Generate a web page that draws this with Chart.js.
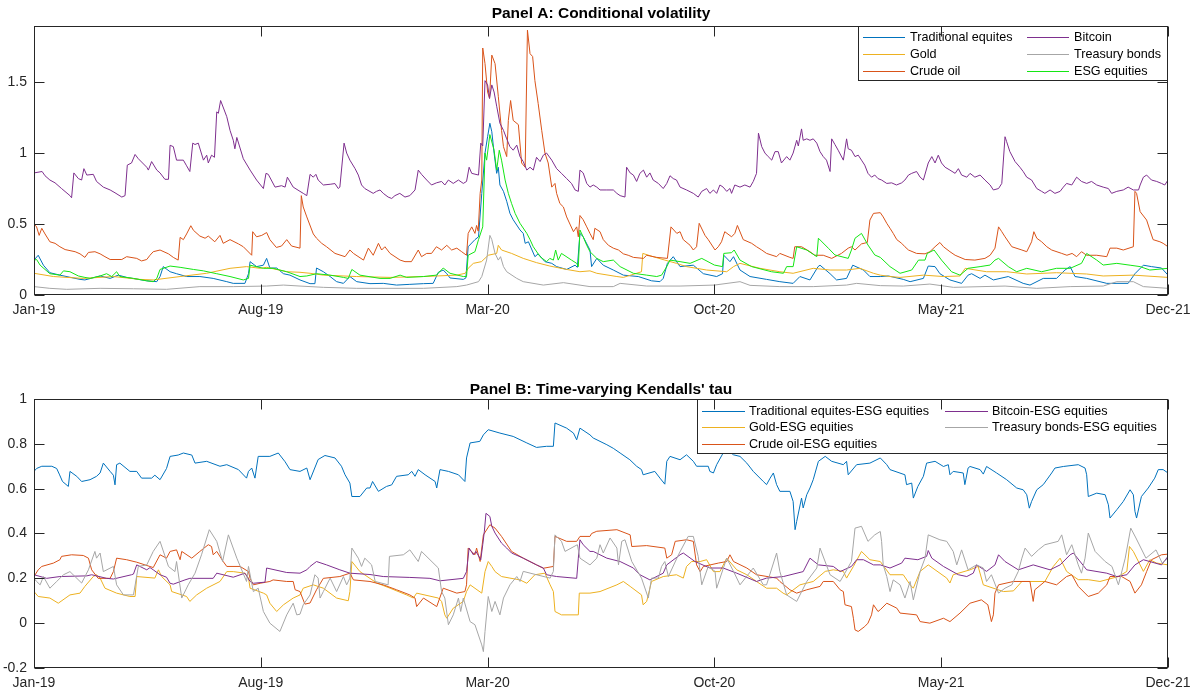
<!DOCTYPE html>
<html>
<head>
<meta charset="utf-8">
<title>Conditional volatility and time-varying Kendall's tau</title>
<script src="https://cdn.jsdelivr.net/npm/chart.js@4.4.1/dist/chart.umd.min.js"></script>
<style>
  html, body { margin: 0; padding: 0; background: #ffffff; }
  #wrap { position: relative; width: 1200px; height: 692px; overflow: hidden; }
  #wrap canvas { position: absolute; left: 0; }
  #panelA { top: 0; }
  #panelB { top: 346px; }
</style>
</head>
<body>
<div id="wrap">
  <canvas id="panelA" width="1200" height="346"></canvas>
  <canvas id="panelB" width="1200" height="346"></canvas>
</div>
<script>
// Time axis: months elapsed since January 2019
const monthTicks = [0, 7, 14, 21, 28, 35];
const monthLabels = ['Jan-19', 'Aug-19', 'Mar-20', 'Oct-20', 'May-21', 'Dec-21'];
const volTicks = [0, 0.5, 1, 1.5];
const tauTicks = [-0.2, 0, 0.2, 0.4, 0.6, 0.8, 1];

// ---- Panel A: conditional volatility, observations are [month, value] ----
const volEquities = [[0,.246],[.13,.28],[.29,.21],[.49,.157],[.8,.14],[1.42,.11],[1.57,.106],[2.04,.134],[2.35,.117],[2.6,.14],[2.86,.124],[3.48,.1],[3.79,.094],[3.89,.13],[3.99,.2],[4.2,.164],[4.4,.15],[4.71,.13],[5.12,.13],[5.53,.117],[5.95,.094],[6.15,.082],[6.51,.082],[6.62,.15],[6.67,.235],[6.87,.2],[7.08,.21],[7.18,.258],[7.28,.19],[7.49,.19],[7.7,.15],[7.9,.14],[8.21,.106],
[8.52,.08],[8.67,.08],[8.72,.19],[8.93,.164],[9.14,.13],[9.34,.094],[9.55,.082],[9.75,.13],[9.96,.094],[10.37,.08],[10.78,.082],[11.19,.07],[11.6,.075],[12.02,.08],[12.32,.082],[12.48,.16],[12.63,.176],[12.74,.15],[12.84,.12],[13.25,.11],[13.33,.12],[13.4,.34],[13.61,.39],[13.72,.41],[13.82,.716],[13.92,1.0],[14,1.115],[14.07,1.21],[14.13,1.15],[14.2,1.0],[14.28,.857],[14.33,.9],[14.38,.775],[14.49,.73],[14.59,.66],[14.69,.575],[14.79,.53],[15,.458],[15.1,.434],[15.16,.364],[15.26,.375],[15.46,.27],[15.56,.29],[15.77,.235],[15.98,.223],[16.13,.2],[16.44,.18],[16.7,.21],[16.77,.195],[16.85,.434],[16.95,.41],[17.16,.317],
[17.21,.2],[17.37,.258],[17.57,.21],[17.88,.176],[18.19,.14],[18.65,.13],[19.06,.1],[19.32,.094],[19.42,.117],[19.55,.223],[19.73,.27],[19.94,.2],[20.35,.21],[20.66,.15],[21.07,.13],[21.25,.15],[21.29,.28],[21.48,.235],[21.59,.27],[21.79,.176],[22.1,.13],[22.61,.11],[23.02,.094],[23.43,.082],[23.64,.13],[23.95,.106],[24.2,.2],[24.26,.21],[24.57,.15],[24.77,.106],[25.08,.117],[25.27,.21],[25.6,.176],[25.8,.13],[26.12,.13],
[26.37,.134],[26.83,.11],[27.04,.094],[27.45,.117],[27.6,.204],[27.81,.2],[27.96,.15],[28.27,.106],[28.63,.082],[28.83,.14],[28.94,.15],[29.2,.117],[29.35,.14],[29.61,.106],[30.07,.13],[30.53,.082],[30.74,.07],[31.15,.117],[31.56,.117],[31.82,.176],[31.98,.2],[32.13,.13],[32.49,.117],[33.11,.082],[33.77,.082],[33.98,.15],[34.24,.21],[34.49,.2],[34.8,.19],[35,.14]];

const volGold = [[0,.153],[.6,.13],[1.52,.117],[2.45,.13],[3.27,.11],[3.68,.106],[4.51,.13],[5.33,.153],[6.05,.188],[6.56,.2],[6.98,.188],[7.18,.195],[7.8,.164],[8.21,.16],[8.52,.153],[8.93,.14],[9.96,.13],[10.99,.124],[12.02,.13],[13.05,.14],[13.31,.153],[13.4,.188],[13.56,.223],[13.81,.235],[14.02,.28],[14.28,.293],[14.33,.35],[14.43,.317],[14.74,.293],[15.1,.258],[15.51,.228],[15.92,.204],[16.44,.18],[16.85,.164],[17.16,.17],[17.37,.153],[17.99,.13],[18.19,.124],[18.6,.153],[18.75,.164],[18.79,.293],[19.11,.27],[19.47,.246],[19.83,.223],[20.14,.2],[20.76,.176],[21.38,.164],[21.59,.2],[21.79,.223],[22.41,.188],[23.02,.164],[23.43,.153],[24.05,.188],[24.57,.176],[25.08,.176],[25.49,.188],[25.91,.153],[26.12,.14],[26.42,.13],[26.73,.124],[27.45,.14],[28.07,.13],[28.58,.134],[28.74,.188],[29.4,.164],[30.02,.164],[30.64,.148],[31.56,.157],[32.49,.148],[33,.134],[33.93,.14],[35,.124]];

const volOil = [[0,.5],[.08,.48],[.16,.42],[.24,.47],[.34,.43],[.49,.375],[.65,.364],[.8,.34],[.96,.32],[1.27,.305],[1.42,.29],[1.57,.265],[1.68,.3],[1.88,.305],[2.04,.29],[2.19,.27],[2.35,.25],[2.71,.25],[2.86,.27],[3.17,.258],[3.32,.24],[3.48,.25],[3.58,.28],[3.68,.305],[3.89,.317],[4.15,.29],[4.3,.265],[4.45,.246],[4.51,.406],[4.61,.39],[4.71,.43],[4.84,.488],[4.92,.456],[5.12,.415],[5.28,.4],[5.38,.415],[5.58,.375],[5.74,.42],[5.84,.364],[6.05,.39],[6.31,.36],[6.46,.34],[6.56,.317],[6.72,.28],[6.75,.446],[6.87,.41],[7.03,.42],[7.18,.44],[7.28,.39],[7.48,.335],[7.64,.345],[7.8,.39],[7.95,.345],[8.21,.33],
[8.25,.7],[8.31,.62],[8.42,.55],[8.62,.43],[8.72,.4],[8.88,.364],[9.03,.34],[9.29,.293],[9.6,.27],[9.75,.317],[9.86,.293],[10.17,.246],[10.32,.33],[10.47,.28],[10.63,.364],[10.73,.317],[10.83,.34],[10.99,.293],[11.3,.246],[11.45,.235],[11.65,.235],[11.86,.317],[11.96,.27],[12.12,.293],[12.27,.293],[12.42,.34],[12.58,.317],[12.74,.35],[12.89,.317],[13.05,.33],[13.2,.305],[13.35,.28],[13.4,.434],[13.51,.48],[13.61,.434],[13.66,.49],[13.71,.45],[13.77,.716],[13.82,.81],[13.85,1.74],[13.92,1.63],[14,1.43],[14.06,1.385],[14.13,1.69],[14.23,1.63],[14.33,1.4],[14.43,1.16],[14.49,1.045],[14.59,.975],[14.64,1.23],[14.71,1.37],[14.79,1.23],[14.95,1.2],[15.05,.93],[15.16,.9],[15.23,1.866],[15.31,1.7],[15.39,1.68],[15.46,1.51],[15.56,1.35],[15.67,1.16],[15.77,1.0],[15.87,.93],[15.98,.76],[16.08,.786],[16.13,.716],[16.23,.645],[16.34,.62],[16.44,.55],[16.54,.5],[16.65,.446],[16.75,.48],[16.8,.41],[16.85,.56],[16.95,.53],[17.06,.48],[17.16,.434],
[17.26,.39],[17.31,.47],[17.47,.446],[17.57,.39],[17.73,.35],[17.88,.33],[18.04,.317],[18.19,.29],[18.34,.28],[18.5,.265],[18.81,.258],[18.91,.28],[19.22,.265],[19.55,.258],[19.66,.48],[19.84,.434],[19.94,.446],[20.04,.39],[20.25,.35],[20.35,.317],[20.45,.34],[20.53,.505],[20.71,.42],[20.81,.39],[21.02,.317],[21.12,.34],[21.22,.375],[21.32,.446],[21.53,.41],[21.63,.434],[21.71,.49],[21.89,.39],[22.15,.364],[22.3,.34],[22.46,.317],[22.61,.293],[22.92,.27],[23.02,.293],[23.33,.265],[23.43,.258],[23.48,.34],[23.69,.34],[23.95,.305],[24.1,.28],[24.36,.28],[24.62,.258],[24.92,.293],[25.13,.33],[25.23,.34],[25.34,.317],[25.54,.36],[25.72,.37],[25.8,.528],[25.91,.575],[26.12,.58],
[26.21,.55],[26.32,.505],[26.42,.47],[26.52,.434],[26.63,.39],[26.78,.364],[26.88,.34],[26.99,.317],[27.24,.293],[27.5,.29],[27.65,.305],[27.81,.34],[27.96,.37],[28.07,.34],[28.27,.305],[28.43,.28],[28.74,.25],[29.04,.246],[29.35,.258],[29.51,.28],[29.66,.33],[29.77,.48],[29.87,.446],[29.97,.41],[30.18,.34],[30.49,.317],[30.64,.305],[30.79,.375],[30.86,.446],[30.95,.4],[31.1,.375],[31.26,.34],[31.41,.317],[31.72,.293],[31.88,.28],[32.04,.293],[32.18,.27],[32.33,.305],[32.49,.28],[32.8,.28],[33.11,.27],[33.21,.33],[33.42,.33],[33.62,.317],[33.93,.34],[33.98,.73],[34.03,.716],[34.14,.587],[34.34,.528],[34.44,.458],[34.54,.39],[34.75,.375],[34.85,.364],[35,.34]];

const volBitcoin = [[0,.86],[.25,.87],[.34,.84],[.49,.81],[.65,.79],[.85,.75],[1.11,.7],[1.16,.685],[1.23,.86],[1.37,.82],[1.47,.81],[1.54,.89],[1.63,.845],[1.83,.85],[1.93,.8],[2.14,.76],[2.35,.74],[2.5,.72],[2.71,.69],[2.81,.7],[2.88,.915],[3.01,.93],[3.12,.99],[3.22,.96],[3.48,.9],[3.53,.88],[3.63,.94],[3.79,.88],[3.89,.86],[4.04,.815],[4.15,.815],[4.2,1.055],[4.3,1.045],[4.4,.95],[4.61,.95],[4.71,.91],[4.81,.87],[4.9,1.07],[4.97,1.06],[5.07,1.07],[5.23,.95],[5.33,.985],[5.38,.93],[5.48,.985],[5.57,.97],[5.64,1.29],[5.69,1.28],[5.76,1.37],[5.95,1.256],[6.05,1.16],[6.15,1.09],[6.2,1.03],[6.26,1.11],[6.46,.96],[6.67,.88],[6.87,.81],[7.08,.75],[7.16,.857],[7.23,.85],[7.44,.76],[7.64,.77],[7.75,.76],[7.82,.83],[8,.76],[8.21,.73],
[8.31,.716],[8.42,.7],[8.52,.85],[8.62,.83],[8.7,.85],[8.77,.81],[8.93,.775],[9.14,.78],[9.29,.785],[9.39,.75],[9.44,.76],[9.57,1.07],[9.65,1.0],[9.75,.95],[9.91,.89],[10.01,.845],[10.11,.775],[10.21,.75],[10.47,.716],[10.57,.73],[10.68,.74],[10.78,.716],[10.93,.69],[11.04,.68],[11.14,.7],[11.29,.716],[11.45,.69],[11.6,.7],[11.76,.74],[11.86,.88],[11.96,.85],[12.12,.81],[12.27,.775],[12.42,.79],[12.58,.8],[12.68,.775],[12.79,.81],[12.94,.786],[13.1,.81],[13.25,.786],[13.35,.8],[13.43,.9],[13.51,.857],[13.72,.845],[13.79,1.07],[13.85,1.05],[13.92,1.51],[14,1.48],[14.06,1.385],[14.13,1.48],[14.2,1.43],[14.28,1.33],[14.38,1.21],[14.49,1.16],[14.59,1.1],[14.69,1.045],[14.79,1.02],[14.9,1.056],[15,.975],[15.1,.94],[15.21,.88],[15.31,.9],[15.41,.88],[15.51,.97],[15.62,.94],[15.72,.985],[15.82,1.0],[15.98,.95],[16.13,.89],[16.28,.857],[16.44,.82],[16.59,.786],[16.7,.74],[16.8,.73],[16.85,.88],[16.95,.86],[17.06,.786],[17.16,.76],
[17.26,.775],[17.37,.76],[17.47,.74],[17.68,.74],[17.88,.74],[17.99,.716],[18.09,.7],[18.24,.69],[18.29,.9],[18.4,.86],[18.5,.845],[18.6,.8],[18.7,.857],[18.81,.88],[18.91,.83],[19.01,.86],[19.11,.81],[19.27,.786],[19.42,.75],[19.53,.786],[19.63,.84],[19.73,.82],[19.83,.81],[19.94,.76],[20.14,.74],[20.35,.716],[20.5,.69],[20.61,.73],[20.76,.75],[20.86,.716],[20.97,.74],[21.07,.716],[21.17,.775],[21.27,.76],[21.38,.73],[21.48,.75],[21.53,.716],[21.63,.775],[21.79,.76],[21.94,.775],[22.1,.76],[22.2,.8],[22.3,.857],[22.36,1.14],[22.46,1.045],[22.56,1.0],[22.66,.975],[22.77,.95],[22.87,1.01],[22.97,1.01],[23.07,.93],[23.23,.975],[23.33,.95],[23.43,1.0],[23.54,1.09],[23.59,1.05],[23.69,1.17],[23.74,1.09],[23.85,1.1],[23.95,1.09],[24.05,1.1],[24.16,1.07],[24.26,1.01],[24.36,.975],[24.46,.95],[24.57,.87],[24.62,1.1],[24.72,1.06],[24.82,1.02],[24.98,.95],[25.08,1.1],[25.13,1.03],[25.23,1.02],[25.34,.975],[25.44,.985],[25.54,.95],[25.64,.915],[25.74,.857],[25.85,.83],[25.95,.845],[26.05,.82],
[26.16,.81],[26.32,.786],[26.47,.79],[26.62,.775],[26.78,.79],[26.88,.81],[26.99,.845],[27.09,.857],[27.24,.87],[27.35,.83],[27.45,.81],[27.6,.93],[27.71,.975],[27.81,.93],[27.91,.985],[28.01,.93],[28.12,.9],[28.27,.88],[28.43,.857],[28.53,.89],[28.63,.845],[28.79,.83],[28.89,.857],[29.04,.83],[29.2,.845],[29.35,.81],[29.51,.775],[29.61,.74],[29.77,.75],[29.87,.786],[29.97,1.115],[30.02,1.08],[30.12,1.01],[30.28,.94],[30.43,.9],[30.53,.87],[30.64,.83],[30.79,.81],[30.95,.75],[31.1,.73],[31.2,.716],[31.36,.74],[31.51,.716],[31.67,.73],[31.77,.76],[31.87,.786],[32.03,.775],[32.18,.83],[32.33,.8],[32.49,.786],[32.64,.8],[32.8,.775],[33,.76],[33.16,.75],[33.26,.716],[33.42,.73],[33.62,.74],[33.77,.76],[33.93,.74],[34.09,.74],[34.14,.775],[34.24,.83],[34.34,.845],[34.49,.81],[34.65,.8],[34.8,.786],[34.9,.775],[35,.81]];

const volBonds = [[0,.059],[.49,.047],[1.01,.04],[2.04,.047],[3.07,.044],[4.09,.04],[5.12,.059],[6.15,.059],[7.18,.063],[7.7,.07],[8.21,.063],[8.93,.054],[9.96,.047],[12.02,.047],[13.05,.059],[13.35,.07],[13.72,.094],[13.82,.13],[13.97,.246],[14.07,.42],[14.13,.39],[14.23,.293],[14.33,.246],[14.4,.27],[14.49,.2],[14.59,.164],[14.9,.117],[15.1,.094],[15.72,.07],[16.34,.087],[17.16,.059],[17.88,.059],[18.09,.082],[18.91,.063],[19.94,.063],[21,.07],[21.79,.094],[22.1,.068],[23.02,.059],[24.05,.059],[25.08,.07],[25.39,.082],[26.12,.066],[26.83,.063],[27.65,.077],[28.38,.054],[29.97,.063],[30.95,.047],[31.98,.059],[33,.063],[33.42,.094],[33.93,.094],[34.24,.059],[35,.047]];

const volESG = [[0,.246],[.08,.25],[.19,.21],[.49,.15],[.8,.14],[.91,.17],[1.11,.164],[1.37,.134],[1.57,.124],[1.73,.117],[2.04,.134],[2.24,.15],[2.4,.13],[2.55,.164],[2.65,.13],[3.07,.117],[3.48,.1],[3.68,.094],[3.79,.117],[3.89,.18],[4.2,.204],[4.51,.195],[4.92,.18],[5.23,.17],[5.64,.15],[6.05,.13],[6.46,.106],[6.62,.117],[6.67,.21],[7.08,.188],[7.38,.188],[7.8,.164],[8.21,.13],
[8.42,.134],[8.72,.15],[9.14,.14],[9.55,.124],[9.7,.117],[9.81,.18],[10.06,.14],[10.68,.117],[10.99,.117],[11.3,.14],[11.5,.124],[12.02,.13],[12.42,.14],[12.63,.19],[12.84,.153],[13.25,.13],[13.35,.13],[13.4,.28],[13.61,.305],[13.72,.39],[13.85,.48],[13.92,1.0],[13.97,.95],[14.07,1.13],[14.2,1.02],[14.28,.88],[14.36,1.02],[14.43,.95],[14.54,.81],[14.64,.716],[14.74,.645],[14.85,.575],[15,.505],[15.21,.434],[15.31,.39],[15.41,.34],[15.62,.27],[15.82,.235],[15.92,.258],[16.03,.246],[16.1,.317],[16.18,.246],[16.28,.293],[16.59,.246],[16.75,.223],[16.8,.2],[16.85,.458],[16.95,.41],[17.06,.35],[17.16,.305],
[17.37,.258],[17.57,.235],[17.88,.246],[18.09,.2],[18.5,.153],[18.91,.14],[19.22,.13],[19.37,.14],[19.53,.2],[19.63,.246],[19.94,.235],[20.25,.223],[20.61,.258],[21,.211],[21.25,.2],[21.29,.293],[21.53,.298],[21.61,.317],[21.79,.246],[22.15,.2],[22.76,.164],[23.13,.153],[23.23,.2],[23.43,.2],[23.54,.34],[23.85,.317],[24.16,.27],[24.21,.4],[24.52,.329],[24.72,.282],[25.13,.258],[25.23,.317],[25.34,.4],[25.54,.434],[25.74,.352],[25.95,.282],[26.12,.265],
[26.42,.2],[26.73,.153],[27.09,.176],[27.3,.246],[27.5,.246],[27.57,.293],[27.78,.317],[28.01,.246],[28.32,.164],[28.58,.14],[28.83,.188],[29.2,.2],[29.51,.211],[29.66,.246],[29.77,.258],[30.07,.2],[30.33,.164],[30.64,.188],[31.1,.164],[31.56,.188],[31.98,.188],[32.33,.223],[32.49,.293],[32.8,.246],[33,.211],[33.42,.223],[33.83,.21],[34.14,.2],[34.44,.176],[35,.188]];

// ---- Panel B: time-varying Kendall's tau with ESG equities ----
const tauEquities = [[0,.677],[.08,.69],[.24,.7],[.55,.7],[.7,.69],[.78,.665],[.88,.632],[1.06,.61],[1.11,.677],[1.32,.655],[1.47,.632],[1.73,.64],[1.93,.655],[2.04,.67],[2.14,.714],[2.35,.677],[2.45,.66],[2.5,.617],[2.55,.707],[2.65,.714],[2.96,.677],[3.17,.677],[3.32,.647],[3.63,.647],[3.73,.66],[3.89,.64],[4.09,.69],[4.2,.744],[4.45,.75],[4.61,.759],[4.87,.75],[4.97,.714],[5.33,.722],[5.74,.7],[5.95,.707],[6.31,.685],[6.56,.647],[6.62,.677],[6.72,.692],[6.82,.647],[6.92,.744],[7.28,.744],[7.54,.759],[7.75,.72],[7.9,.685],[8.21,.677],
[8.42,.692],[8.52,.64],[8.77,.73],[8.98,.748],[9.29,.737],[9.49,.7],[9.6,.662],[9.75,.625],[9.81,.565],[10.06,.565],[10.27,.603],[10.37,.603],[10.45,.632],[10.63,.588],[10.88,.61],[11.04,.617],[11.19,.655],[11.55,.662],[11.66,.677],[11.76,.655],[11.86,.685],[12.07,.662],[12.38,.632],[12.43,.603],[12.53,.685],[12.79,.677],[13.1,.662],[13.3,.632],[13.35,.737],[13.46,.804],[13.76,.811],[13.87,.84],[14.02,.863],[14.38,.848],[14.79,.833],[15.21,.804],[15.51,.784],[15.82,.789],[16.03,.789],[16.08,.893],[16.44,.87],[16.65,.848],[16.75,.818],[16.85,.87],[17.16,.84],
[17.26,.826],[17.68,.796],[17.88,.78],[18.09,.759],[18.39,.729],[18.6,.7],[18.75,.685],[18.8,.662],[19.16,.677],[19.32,.647],[19.47,.62],[19.53,.722],[19.63,.744],[19.94,.729],[20.14,.751],[20.35,.722],[20.45,.7],[20.81,.7],[20.86,.677],[20.97,.67],[21.07,.707],[21.27,.759],[21.38,.774],[21.59,.751],[21.79,.744],[22,.714],[22.2,.677],[22.51,.632],[22.61,.618],[22.72,.647],[22.82,.67],[22.92,.618],[23.02,.588],[23.33,.588],[23.43,.543],[23.49,.417],[23.54,.454],[23.69,.558],[23.74,.514],[23.85,.573],[23.95,.603],[24.05,.64],[24.21,.722],[24.42,.744],[24.62,.722],[24.98,.707],[25.08,.722],[25.13,.662],[25.39,.707],[25.8,.714],[26.12,.737],
[26.32,.707],[26.42,.685],[26.88,.662],[26.93,.618],[27.09,.625],[27.14,.558],[27.28,.61],[27.45,.655],[27.55,.714],[27.81,.722],[28.07,.699],[28.22,.707],[28.27,.662],[28.37,.677],[28.68,.67],[28.73,.618],[28.83,.692],[28.89,.699],[29.2,.685],[29.3,.665],[29.4,.699],[29.71,.67],[30.02,.64],[30.33,.603],[30.53,.595],[30.64,.573],[30.72,.513],[30.79,.543],[30.95,.595],[31.15,.618],[31.41,.67],[31.51,.692],[31.77,.699],[32.23,.707],[32.44,.692],[32.49,.662],[32.54,.565],[32.8,.58],[33.06,.573],[33.16,.528],[33.21,.469],[33.42,.506],[33.62,.543],[33.83,.595],[33.93,.573],[33.98,.499],[34.03,.469],[34.18,.565],[34.39,.603],[34.59,.647],[34.7,.685],[34.85,.685],[35,.67]];

const tauGold = [[0,.141],[.13,.119],[.49,.112],[.75,.089],[1.11,.126],[1.42,.134],[1.57,.164],[1.83,.208],[1.93,.216],[2.04,.201],[2.19,.156],[2.55,.134],[2.96,.119],[3.12,.119],[3.17,.208],[3.73,.201],[3.84,.238],[3.94,.208],[4.2,.171],[4.25,.141],[4.71,.119],[4.81,.097],[5.02,.126],[5.33,.156],[5.74,.186],[5.95,.23],[6.15,.23],[6.51,.223],[6.62,.201],[6.67,.156],[7.08,.134],[7.18,.126],[7.28,.089],[7.49,.052],[7.7,.082],[8,.112],[8.21,.126],
[8.31,.156],[8.62,.171],[8.93,.156],[9.34,.112],[9.7,.1],[9.75,.141],[9.81,.275],[10.06,.23],[10.58,.179],[10.99,.156],[11.5,.126],[11.71,.112],[11.81,.134],[12.48,.112],[12.58,.097],[12.68,.037],[12.74,.022],[12.94,.067],[13.25,.097],[13.35,.141],[13.46,.171],[13.82,.134],[13.92,.23],[14.02,.275],[14.13,.253],[14.23,.23],[14.43,.208],[14.69,.201],[15,.193],[15.21,.178],[15.46,.216],[15.77,.223],[15.93,.171],[16.03,.141],[16.08,.052],[16.28,.037],[16.8,.037],[16.83,.134],[17.16,.134],
[17.47,.141],[17.99,.171],[18.19,.186],[18.4,.164],[18.75,.126],[18.8,.082],[18.91,.097],[19.06,.186],[19.42,.208],[19.83,.216],[20.04,.201],[20.14,.253],[20.3,.275],[20.56,.275],[20.76,.283],[20.97,.23],[21.17,.23],[21.38,.29],[21.69,.238],[22,.216],[22.3,.186],[22.61,.156],[22.92,.156],[23.12,.134],[23.23,.126],[23.64,.171],[24.05,.186],[24.42,.231],[24.67,.238],[24.98,.231],[25.08,.201],[25.29,.253],[25.54,.32],[25.8,.283],[26.12,.275],
[26.42,.216],[26.83,.216],[27.04,.171],[27.14,.156],[27.35,.231],[27.6,.26],[28.17,.201],[28.27,.179],[28.37,.216],[28.89,.238],[29.14,.253],[29.3,.171],[29.92,.141],[30.23,.144],[30.49,.186],[31.2,.186],[31.46,.253],[31.67,.29],[31.87,.231],[32.23,.194],[32.54,.194],[32.9,.186],[33.47,.208],[33.73,.231],[33.81,.342],[33.93,.32],[34.24,.231],[34.44,.283],[34.65,.268],[35,.26]];

const tauOil = [[0,.208],[.13,.238],[.24,.253],[.6,.268],[.8,.283],[.85,.298],[1.16,.305],[1.52,.302],[1.68,.29],[1.78,.238],[1.98,.2],[2.35,.2],[2.45,.23],[2.55,.29],[2.86,.283],[3.17,.272],[3.68,.248],[3.89,.305],[4.09,.29],[4.2,.32],[4.4,.327],[4.51,.283],[4.56,.32],[4.87,.29],[5.12,.32],[5.38,.35],[5.48,.342],[5.53,.305],[5.64,.32],[5.84,.275],[5.95,.253],[6.36,.253],[6.62,.23],[6.67,.2],[6.77,.171],[6.98,.178],[7.28,.186],[7.38,.193],[7.8,.186],[8,.186],[8.06,.149],[8.21,.141],
[8.36,.085],[8.52,.09],[8.72,.149],[8.93,.2],[9.44,.208],[9.75,.223],[9.86,.193],[10.37,.186],[10.78,.171],[11.19,.149],[11.6,.126],[11.76,.112],[11.81,.074],[12.02,.112],[12.43,.074],[12.63,.156],[13.05,.134],[13.3,.141],[13.35,.171],[13.4,.335],[13.61,.305],[13.66,.335],[13.77,.275],[13.87,.394],[14.07,.439],[14.23,.424],[14.43,.387],[14.74,.32],[15.1,.29],[15.51,.26],[15.72,.245],[16.03,.253],[16.08,.387],[16.44,.365],[16.75,.365],[16.85,.387],[17.16,.387],
[17.21,.4],[17.37,.41],[17.99,.417],[18.4,.394],[18.45,.342],[18.91,.346],[19.47,.335],[19.53,.29],[19.68,.305],[19.79,.365],[20.14,.372],[20.35,.365],[20.45,.26],[20.56,.23],[20.66,.253],[21.12,.268],[21.38,.275],[21.48,.305],[21.59,.275],[22,.246],[22.3,.216],[22.92,.201],[23.02,.186],[23.33,.149],[23.54,.134],[23.85,.149],[24.26,.164],[24.36,.186],[24.67,.186],[24.88,.149],[24.98,.141],[25.03,.082],[25.23,.074],[25.29,.022],[25.34,-.03],[25.44,-.037],[25.64,-.015],[25.74,0],[25.85,.037],[25.91,.082],[26.05,.052],[26.12,.06],
[26.32,.089],[26.63,.067],[26.73,.045],[27.24,.037],[27.35,.007],[27.65,0],[28.07,.022],[28.27,.007],[28.58,.045],[28.89,.089],[29.24,.104],[29.44,.082],[29.55,.007],[29.61,.037],[29.66,.134],[29.77,.171],[30.23,.186],[30.74,.186],[30.84,.097],[30.89,.149],[31.2,.186],[31.56,.171],[31.87,.208],[32.03,.216],[32.23,.164],[32.54,.119],[32.85,.134],[33.11,.171],[33.21,.208],[33.57,.208],[33.83,.186],[33.98,.134],[34.18,.171],[34.34,.23],[34.49,.283],[34.8,.305],[35,.308]];

const tauBitcoin = [[0,.216],[.39,.2],[.8,.208],[1.63,.211],[1.78,.216],[2.24,.2],[2.45,.197],[3.01,.216],[3.07,.219],[3.17,.26],[3.48,.238],[3.58,.248],[3.68,.238],[3.89,.216],[4.09,.205],[4.2,.178],[4.3,.174],[4.66,.193],[4.81,.2],[5.53,.2],[5.64,.223],[6.15,.205],[6.51,.223],[6.67,.186],[6.77,.178],[7.13,.183],[7.18,.246],[7.8,.226],[8.21,.223],
[8.42,.238],[8.52,.253],[8.72,.275],[9.03,.26],[9.44,.238],[9.75,.223],[10.37,.217],[10.78,.208],[11.6,.204],[12.22,.2],[12.53,.189],[13.25,.2],[13.35,.23],[13.43,.335],[13.56,.305],[13.64,.32],[13.79,.283],[13.85,.35],[13.9,.41],[13.95,.49],[14.07,.476],[14.13,.432],[14.23,.402],[14.43,.357],[14.59,.335],[14.74,.313],[15.1,.29],[15.51,.26],[15.72,.246],[15.82,.216],[16.13,.208],[16.75,.2],[16.8,.29],[16.85,.372],[16.95,.35],[17.16,.32],
[17.26,.32],[17.68,.29],[18.09,.275],[18.5,.246],[18.7,.216],[19.01,.193],[19.42,.223],[19.53,.26],[19.94,.305],[20.04,.313],[20.4,.275],[20.86,.246],[21.27,.246],[21.69,.223],[22.3,.186],[22.61,.201],[23.13,.208],[23.74,.23],[23.95,.29],[24.21,.26],[24.67,.253],[24.88,.23],[25.23,.253],[25.39,.283],[25.6,.283],[25.91,.26],[26.12,.26],
[26.42,.246],[26.78,.268],[26.88,.29],[27.28,.283],[27.55,.298],[27.6,.324],[27.71,.29],[28.07,.253],[28.53,.216],[28.79,.208],[28.99,.223],[29.09,.26],[29.4,.231],[29.66,.26],[29.77,.305],[29.97,.275],[30.38,.238],[30.84,.26],[31.36,.238],[31.67,.26],[31.98,.305],[32.08,.313],[32.49,.238],[33.11,.223],[33.42,.208],[33.73,.216],[33.98,.26],[34.24,.283],[34.8,.26],[35,.298]];

const tauBonds = [[0,.2],[.08,.186],[.19,.171],[.29,.208],[.49,.156],[.7,.186],[.91,.216],[1.11,.23],[1.47,.179],[1.68,.238],[1.88,.32],[1.93,.29],[2.04,.313],[2.14,.23],[2.45,.253],[2.55,.171],[2.76,.126],[3.07,.126],[3.22,.253],[3.48,.26],[3.68,.32],[3.89,.365],[4.15,.253],[4.35,.23],[4.4,.275],[4.56,.112],[4.76,.171],[4.97,.223],[5.17,.305],[5.41,.417],[5.64,.365],[5.82,.275],[6,.394],[6.26,.29],[6.56,.186],[6.62,.253],[6.77,.141],[6.92,.156],[7.08,.052],[7.28,0],[7.59,-.037],[7.8,.037],[8,.089],[8.11,.037],[8.21,.04],
[8.31,.082],[8.52,.126],[8.67,.216],[8.77,.201],[8.83,.112],[8.93,.141],[9.14,.201],[9.34,.141],[9.55,.208],[9.65,.171],[9.75,.201],[9.81,.335],[10.01,.29],[10.11,.253],[10.21,.29],[10.42,.26],[10.53,.186],[10.93,.171],[10.97,.298],[11.4,.305],[11.6,.327],[11.86,.275],[11.96,.32],[12.48,.246],[12.58,.141],[12.68,.112],[12.79,-.007],[12.94,.037],[13.1,.112],[13.17,.052],[13.25,.112],[13.46,.007],[13.61,-.007],[13.82,-.097],[13.87,-.127],[13.92,-.037],[14.02,.119],[14.13,.052],[14.23,.097],[14.38,.037],[14.49,.112],[14.69,.171],[14.9,.208],[15,.186],[15.1,.231],[15.51,.216],[15.93,.201],[16.03,.231],[16.08,.394],[16.28,.365],[16.39,.32],[16.77,.35],[16.85,.29],[17.16,.26],
[17.37,.29],[17.47,.35],[17.57,.313],[17.78,.38],[17.99,.335],[18.04,.26],[18.14,.365],[18.24,.372],[18.45,.275],[18.75,.201],[18.96,.112],[19.06,.201],[19.27,.201],[19.37,.253],[19.47,.275],[19.58,.208],[19.89,.305],[20.19,.387],[20.35,.387],[20.5,.298],[20.61,.171],[20.81,.253],[21.02,.231],[21.07,.156],[21.38,.29],[21.59,.231],[21.79,.171],[22.2,.246],[22.51,.171],[22.61,.171],[22.92,.313],[23.02,.231],[23.23,.126],[23.54,.097],[23.85,.186],[24.16,.246],[24.26,.335],[24.57,.216],[24.88,.186],[25.23,.275],[25.34,.424],[25.54,.432],[25.74,.365],[25.95,.394],[26.12,.409],
[26.16,.365],[26.21,.26],[26.32,.208],[26.42,.141],[26.52,.193],[26.73,.171],[26.88,.112],[27.04,.186],[27.14,.104],[27.35,.231],[27.5,.29],[27.6,.394],[27.96,.372],[28.17,.365],[28.37,.32],[28.48,.26],[28.63,.327],[28.83,.238],[29.09,.26],[29.3,.246],[29.4,.186],[29.55,.216],[29.77,.134],[29.97,.156],[30.18,.171],[30.38,.231],[30.49,.29],[30.59,.335],[30.79,.298],[31,.327],[31.2,.35],[31.61,.365],[31.72,.394],[31.87,.305],[32.03,.35],[32.23,.26],[32.33,.223],[32.44,.29],[32.54,.402],[32.75,.32],[33.06,.275],[33.27,.253],[33.47,.171],[33.68,.29],[33.85,.424],[34.01,.38],[34.32,.29],[34.63,.327],[34.82,.268],[35,.29]];

// ---- Drawing ----
const FONT = '"Liberation Sans", Arial, Helvetica, sans-serif';
const INK = '#262626';
const COLORS = {
  blue: '#0072BD', orange: '#D95319', yellow: '#EDB120',
  purple: '#7E2F8E', gray: '#A6A6A6', green: '#14E614'
};

const panels = {
  panelA: {
    title: 'Panel A: Conditional volatility',
    yMin: 0, yMax: 1.895, yTicks: volTicks,
    top: 26, xAxisHeight: 51, titleGap: 8.5,
    series: [
      { label: 'Traditional equites', data: volEquities, color: COLORS.blue },
      { label: 'Gold', data: volGold, color: COLORS.yellow },
      { label: 'Crude oil', data: volOil, color: COLORS.orange },
      { label: 'Bitcoin', data: volBitcoin, color: COLORS.purple },
      { label: 'Treasury bonds', data: volBonds, color: COLORS.gray },
      { label: 'ESG equities', data: volESG, color: COLORS.green }
    ],
    legend: { width: 310, height: 54, cols: [5, 169], rowStart: 10.7, rowStep: 17, lineLen: 42, textGap: 47, perCol: 3 }
  },
  panelB: {
    title: "Panel B: Time-varying Kendalls' tau",
    yMin: -0.2, yMax: 1, yTicks: tauTicks,
    top: 53, xAxisHeight: 24, titleGap: 5,
    series: [
      { label: 'Traditional equites-ESG equities', data: tauEquities, color: COLORS.blue },
      { label: 'Gold-ESG equities', data: tauGold, color: COLORS.yellow },
      { label: 'Crude oil-ESG equities', data: tauOil, color: COLORS.orange },
      { label: 'Bitcoin-ESG equities', data: tauBitcoin, color: COLORS.purple },
      { label: 'Treasury bonds-ESG equities', data: tauBonds, color: COLORS.gray }
    ],
    legend: { width: 471, height: 54, cols: [5, 248], rowStart: 11.7, rowStep: 16.5, lineLen: 43, textGap: 47, perCol: 3 }
  }
};

// Box, inward tick marks, legend and title drawn on top of the series
const panelFrame = {
  id: 'panelFrame',
  afterDatasetsDraw(chart) {
    const cfg = panels[chart.canvas.id];
    const { ctx, chartArea: a } = chart;
    const xs = chart.scales.x, ys = chart.scales.y;
    ctx.save();

    // legend box
    const L = cfg.legend;
    const bx = Math.round(a.right - L.width), by = Math.round(a.top);
    ctx.fillStyle = '#ffffff';
    ctx.fillRect(bx, by, L.width, L.height);
    ctx.lineWidth = 1;
    ctx.strokeStyle = INK;
    ctx.strokeRect(bx + 0.5, by + 0.5, L.width - 1, L.height);
    ctx.font = '12.6px ' + FONT;
    ctx.textAlign = 'left';
    ctx.textBaseline = 'middle';
    cfg.series.forEach((s, i) => {
      const col = Math.floor(i / L.perCol), row = i % L.perCol;
      const lx = bx + L.cols[col];
      const ly = Math.round(by + L.rowStart + row * L.rowStep);
      ctx.fillStyle = s.color;
      ctx.fillRect(lx, ly, L.lineLen, 1);
      ctx.fillStyle = '#000000';
      ctx.fillText(s.label, lx + L.textGap, ly + 1);
    });

    // axes box
    const l = Math.round(a.left) + 0.5, r = Math.round(a.right) - 0.5;
    const t = Math.round(a.top) + 0.5, b = Math.round(a.bottom) - 0.5;
    ctx.strokeStyle = INK;
    ctx.lineWidth = 1;
    ctx.strokeRect(l, t, r - l, b - t);

    // inward ticks on all four sides
    ctx.beginPath();
    xs.ticks.forEach(tk => {
      const px = Math.round(xs.getPixelForValue(tk.value)) + 0.5;
      ctx.moveTo(px, b); ctx.lineTo(px, b - 10);
      ctx.moveTo(px, t); ctx.lineTo(px, t + 10);
    });
    ys.ticks.forEach(tk => {
      const py = Math.round(ys.getPixelForValue(tk.value)) + 0.5;
      ctx.moveTo(l, py); ctx.lineTo(l + 10, py);
      ctx.moveTo(r, py); ctx.lineTo(r - 10, py);
    });
    ctx.stroke();

    // title
    ctx.fillStyle = '#000000';
    ctx.font = 'bold 15.5px ' + FONT;
    ctx.textAlign = 'center';
    ctx.textBaseline = 'alphabetic';
    ctx.fillText(cfg.title, (a.left + a.right) / 2, a.top - cfg.titleGap);
    ctx.restore();
  }
};

function buildPanel(id) {
  const cfg = panels[id];
  const n = cfg.series.length;
  const datasets = cfg.series.map((s, i) => ({
    label: s.label,
    data: s.data.map(([t, v]) => ({ x: t, y: v })),
    borderColor: s.color,
    borderWidth: 1,
    pointRadius: 0,
    pointHoverRadius: 0,
    fill: false,
    tension: 0,
    order: n - i
  }));
  return new Chart(document.getElementById(id), {
    type: 'line',
    data: { datasets },
    options: {
      responsive: false,
      animation: false,
      devicePixelRatio: 1,
      events: [],
      layout: { padding: { left: 0, right: 32, top: cfg.top, bottom: 0 } },
      plugins: { legend: { display: false }, tooltip: { enabled: false }, title: { display: false } },
      scales: {
        x: {
          type: 'linear', min: 0, max: 35,
          grid: { display: false, drawTicks: false }, border: { display: false },
          afterBuildTicks: sc => { sc.ticks = monthTicks.map(v => ({ value: v })); },
          afterFit: sc => { sc.height = cfg.xAxisHeight; },
          ticks: {
            autoSkip: false, maxRotation: 0, minRotation: 0, padding: 7,
            color: INK, font: { family: FONT, size: 14 },
            callback: v => { const k = monthTicks.indexOf(v); return k >= 0 ? monthLabels[k] : ''; }
          }
        },
        y: {
          type: 'linear', min: cfg.yMin, max: cfg.yMax,
          grid: { display: false, drawTicks: false }, border: { display: false },
          afterBuildTicks: sc => { sc.ticks = cfg.yTicks.map(v => ({ value: v })); },
          afterFit: sc => { sc.width = 34; },
          ticks: {
            padding: 7, color: INK, font: { family: FONT, size: 14 },
            callback: v => String(Math.round(v * 10) / 10)
          }
        }
      }
    },
    plugins: [panelFrame]
  });
}

buildPanel('panelA');
buildPanel('panelB');
</script>
</body>
</html>
